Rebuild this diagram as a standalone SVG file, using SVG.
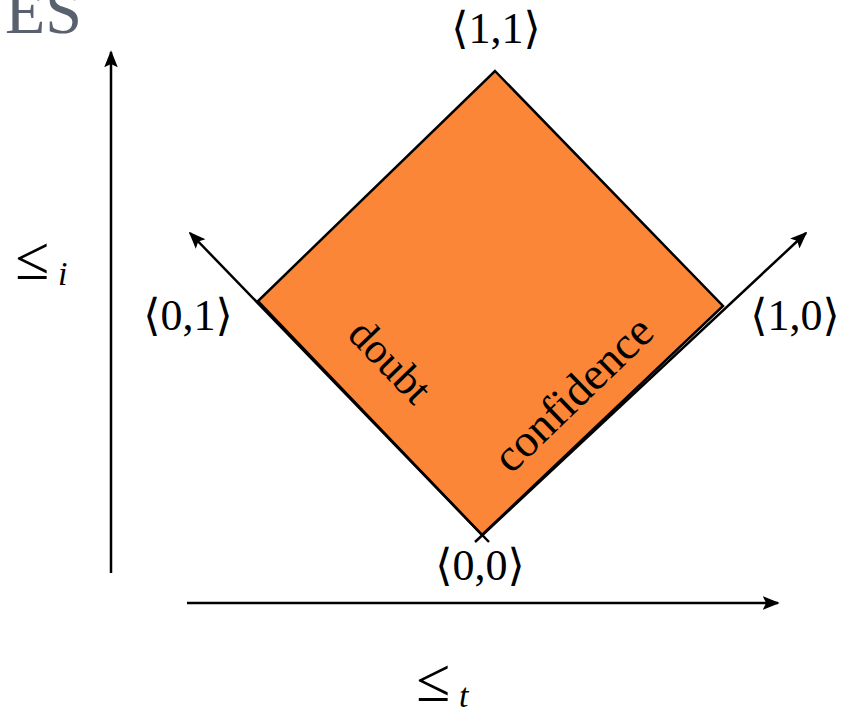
<svg xmlns="http://www.w3.org/2000/svg" width="850" height="713" viewBox="0 0 850 713">
<defs>
<marker id="ah2" viewBox="0 0 10 10" refX="9" refY="5" markerWidth="17" markerHeight="17" markerUnits="userSpaceOnUse" orient="auto">
<path d="M0,1 L10,5 L0,9 L2,5 z" fill="#000"/>
</marker>
<style>
.ax{stroke:#000;stroke-width:2.5;fill:none}
.sf{font-family:"Liberation Serif","Times New Roman","DejaVu Serif",serif}
.br{font-family:"DejaVu Serif",serif}
</style>
</defs>
<text class="sf" x="5" y="33" font-size="66" fill="#59606e">ES</text>
<g id="diamond">
<polygon points="495,71 723,306 482,535 258,301" fill="#fc8638" stroke="#000" stroke-width="2.5"/>
<text class="sf" font-size="43" fill="#000" transform="translate(346,336) rotate(46)">doubt</text>
<text class="sf" font-size="46" fill="#000" transform="translate(511,475) rotate(-44)">confidence</text>
</g>
<g id="connectors">
<line class="ax" x1="489" y1="542" x2="190" y2="233" marker-end="url(#ah2)"/>
<line class="ax" x1="475" y1="542" x2="806" y2="233" marker-end="url(#ah2)"/>
<line class="ax" x1="111" y1="573" x2="111" y2="52" marker-end="url(#ah2)"/>
<line class="ax" x1="187" y1="603" x2="778" y2="603" marker-end="url(#ah2)"/>
</g>
<g class="sf" font-size="44" fill="#000" text-anchor="middle">
<g id="n11"><text x="496" y="43"><tspan class="br">⟨</tspan>1,1<tspan class="br">⟩</tspan></text></g>
<g id="n01"><text x="188" y="330"><tspan class="br">⟨</tspan>0,1<tspan class="br">⟩</tspan></text></g>
<g id="n10"><text x="795" y="330"><tspan class="br">⟨</tspan>1,0<tspan class="br">⟩</tspan></text></g>
<g id="n00"><text x="480" y="580"><tspan class="br">⟨</tspan>0,0<tspan class="br">⟩</tspan></text></g>
</g>
<g id="li"><text class="sf" x="15" y="279" font-size="62" fill="#000">≤<tspan font-style="italic" font-size="34" dx="9" dy="6">i</tspan></text></g>
<g id="lt"><text class="sf" x="416" y="701" font-size="62" fill="#000">≤<tspan font-style="italic" font-size="34" dx="9" dy="6">t</tspan></text></g>
</svg>
